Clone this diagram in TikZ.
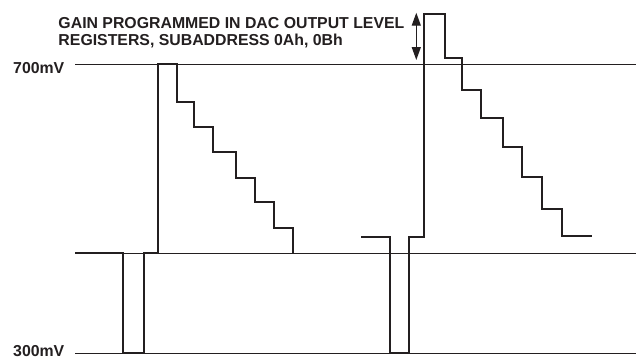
\documentclass[tikz,border=0pt]{standalone}
\usepackage{fontspec}
\setmainfont{Liberation Sans}
\usetikzlibrary{arrows.meta}
\definecolor{inkblack}{RGB}{35,31,32}

\begin{document}
\begin{tikzpicture}[
        x=1bp, y=-1bp,
        refline/.style={draw=inkblack, line width=0.9bp},
        wave/.style={draw=inkblack, line width=2.1bp, line join=miter},
        lbl/.style={inner sep=0pt, text=inkblack, font=\bfseries\fontsize{15.9}{17.3}\selectfont},
        arr/.style={{Triangle[length=13bp, width=9bp]}-{Triangle[length=13bp, width=9bp]}, draw=inkblack, line width=1.4bp}
      ]
        \useasboundingbox (0,0) rectangle (636,358);
        % levels
        \node[lbl, anchor=base west] (v700) at (13,73.8) {700mV};
        \node[lbl, anchor=base west] (v300) at (13,356) {300mV};
        \draw[refline] (75,64.3) -- (636,64.3);
        \draw[refline] (75,253.3) -- (636,253.3);
        \draw[refline] (75,353.5) -- (636,353.5);
        % first line: sync, burst, staircase
        \draw[wave] (75,253.3) -- (123,253.3) -- (123,353) -- (144,353) -- (144,253.3)
          -- (158.3,253.3) -- (158.3,64.3) -- (177.3,64.3) -- (177.3,102.3) -- (194.3,102.3)
          -- (194.3,126.7) -- (213.3,126.7) -- (213.3,152.3) -- (236,152.3) -- (236,177.7)
          -- (255,177.7) -- (255,202.3) -- (273.7,202.3) -- (273.7,228.3) -- (292.7,228.3)
          -- (292.7,253.3);
        % second line, gain raised
        \draw[wave] (361,237.3) -- (390,237.3) -- (390,353) -- (409,353) -- (409,237.3)
          -- (424.3,237.3) -- (424.3,14.3) -- (445,14.3) -- (445,57.7) -- (461.7,57.7)
          -- (461.7,90) -- (481,90) -- (481,118.3) -- (503.3,118.3) -- (503.3,146.7)
          -- (522.3,146.7) -- (522.3,176.7) -- (541.7,176.7) -- (541.7,209) -- (562.3,209)
          -- (562.3,235.7) -- (591.7,235.7);
        % gain label
        \node[lbl, anchor=north west, align=left] (gain) at (58.3,17.4)
          {GAIN PROGRAMMED IN DAC OUTPUT LEVEL\\REGISTERS, SUBADDRESS 0Ah, 0Bh};
        \coordinate (gaintop) at (416.3,12.7);
        \coordinate (gainbot) at (416.3,60);
        \draw[arr] (gaintop) -- (gainbot);
      \end{tikzpicture}
\end{document}
